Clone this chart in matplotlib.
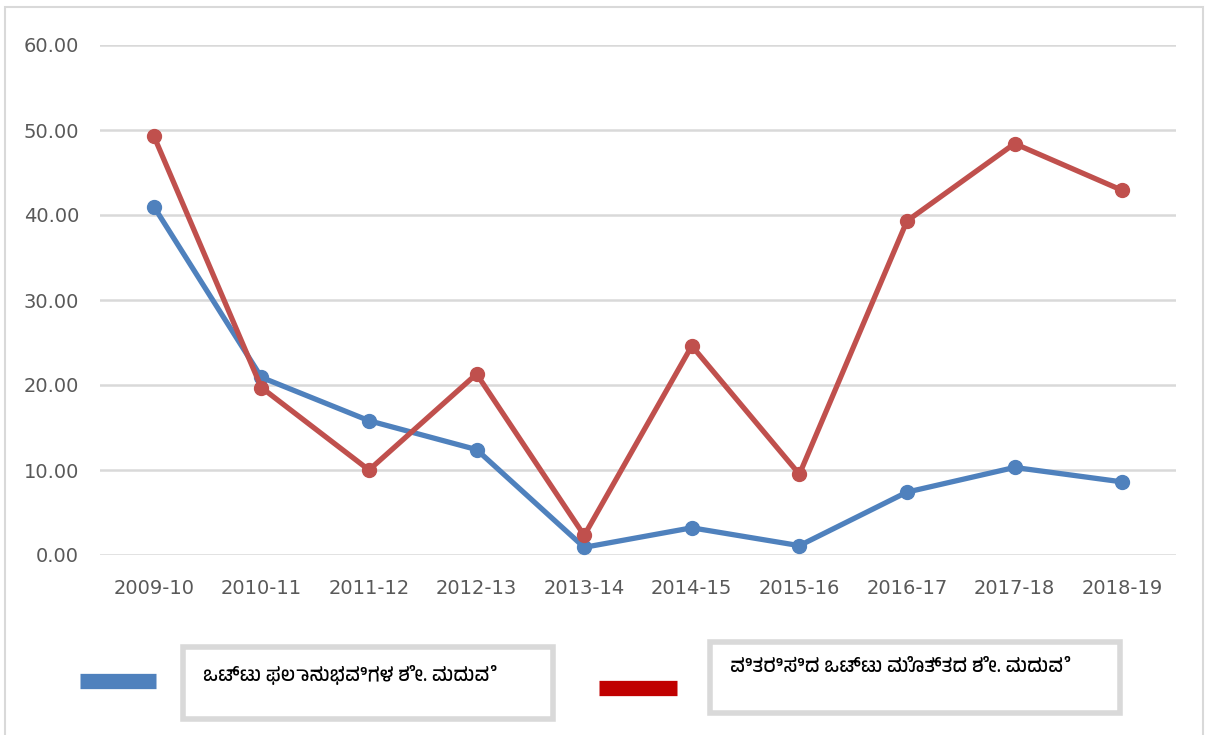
import matplotlib.pyplot as plt
from matplotlib import font_manager
from matplotlib.patches import Rectangle
from matplotlib.lines import Line2D

# -------------------------------------------------------------------
# data
# -------------------------------------------------------------------
years = ["2009-10", "2010-11", "2011-12", "2012-13", "2013-14",
         "2014-15", "2015-16", "2016-17", "2017-18", "2018-19"]
beneficiaries = [41.0, 20.9, 15.8, 12.4, 0.9, 3.2, 1.1, 7.4, 10.3, 8.6]
distributed = [49.3, 19.7, 10.0, 21.3, 2.3, 24.6, 9.5, 39.3, 48.4, 42.9]
yticks = [0, 10, 20, 30, 40, 50, 60]

label_blue = "ಒಟ್ಟು ಫಲಾನುಭವಿಗಳ ಶೇ. ಮದುವೆ"
label_red = "ವಿತರಿಸಿದ ಒಟ್ಟು ಮೊತ್ತದ ಶೇ. ಮದುವೆ"

# pick a font that has Kannada glyphs if one is around
kn_fonts = []
for f in font_manager.fontManager.ttflist:
    if "Kannada" in f.name or "Lohit" in f.name or "Tunga" in f.name:
        if f.name not in kn_fonts:
            kn_fonts.append(f.name)
plt.rcParams['font.family'] = ['DejaVu Sans'] + kn_fonts
legend_family = kn_fonts + ['DejaVu Sans']

blue = "#4f81bd"
red = "#c0504d"
grid_col = "#d9d9d9"
tick_col = "#595959"

fig = plt.figure(figsize=(12.11, 7.35), dpi=100)
ax = fig.add_axes([100 / 1211, 1 - 555 / 735, 1076 / 1211, 510 / 735])

x = list(range(len(years)))
ax.plot(x, beneficiaries, color=blue, lw=3.8, marker='o', ms=10, zorder=3)
ax.plot(x, distributed, color=red, lw=3.8, marker='o', ms=10, zorder=4)

ax.set_xlim(-0.5, len(years) - 0.5)
ax.set_ylim(0, 60)
ax.set_yticks(yticks)
ax.set_yticklabels([f"{v:.2f}" for v in yticks])
ax.set_xticks(x)
ax.set_xticklabels(years)
ax.tick_params(axis='both', length=0, labelsize=14, labelcolor=tick_col)
ax.tick_params(axis='x', pad=17)
ax.tick_params(axis='y', pad=15)
ax.yaxis.grid(True, color=grid_col, lw=1.8)
ax.set_axisbelow(True)
for s in ax.spines.values():
    s.set_visible(False)

# outer chart frame
fig.patches.append(Rectangle((5 / 1211, -0.01), 1198 / 1211, 1.0,
                             transform=fig.transFigure, fill=False,
                             ec=grid_col, lw=1.5))

# hand-made legend: line swatch + grey-bordered text box for each series
def px(xp, yp):
    return xp / 1211, 1 - yp / 735

for col, (x0, x1, ys), (bx, by, bw, bh), (tx, ty), lab in [
        (blue, (80, 156, 681), (183, 647, 370, 72), (203, 675), label_blue),
        ("#c00000", (599, 677, 688), (710, 642, 410, 71), (730, 667), label_red)]:
    a, b = px(x0, ys)
    c, _ = px(x1, ys)
    fig.add_artist(Line2D([a, c], [b, b], color=col, lw=11,
                          solid_capstyle='butt', transform=fig.transFigure))
    rx, ry = px(bx, by + bh)
    fig.patches.append(Rectangle((rx, ry), bw / 1211, bh / 735,
                                 transform=fig.transFigure, fill=False,
                                 ec=grid_col, lw=4))
    tx_, ty_ = px(tx, ty)
    fig.text(tx_, ty_, lab, fontsize=14, va='center', ha='left',
             family=legend_family, color='black')

fig.savefig("out.png", dpi=100)
